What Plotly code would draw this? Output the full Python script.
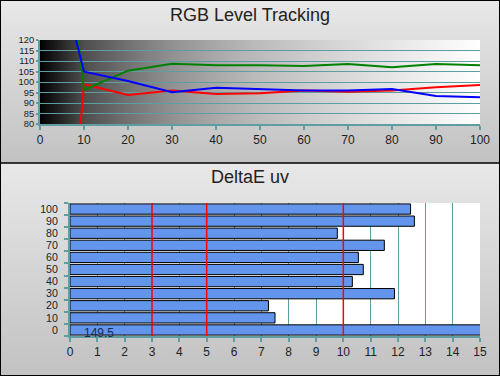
import plotly.graph_objects as go

# ---------------- data ----------------
levels = [0, 10, 20, 30, 40, 50, 60, 70, 80, 90, 100]
red_vals = [-140, 98.9, 93.8, 95.9, 94.3, 94.6, 95.9, 95.4, 95.9, 97.5, 98.6]
green_vals = [280, 96.2, 105.4, 108.7, 108.0, 108.0, 107.6, 108.6, 107.0, 108.6, 108.0]
blue_vals = [188, 104.9, 100.5, 95.1, 97.3, 96.7, 95.9, 95.9, 96.7, 93.3, 92.7]

deltae_levels = [0, 10, 20, 30, 40, 50, 60, 70, 80, 90, 100]
deltae_vals = [149.5, 7.5, 7.26, 11.87, 10.33, 10.73, 10.55, 11.5, 9.78, 12.6, 12.46]
thresholds = [3, 5, 10]

top_title = "RGB Level Tracking"
bottom_title = "DeltaE uv"

# ---------------- styling ----------------
W, H = 500, 376
FONT = "Liberation Sans, Arial, sans-serif"
TXT = "#222222"
TEAL = "#5f9ea0"
split = 1 - 163 / H

top_dom_x = [40 / W, 480 / W]
top_dom_y = [1 - 124 / H, 1 - 40 / H]
bot_dom_x = [70 / W, 480 / W]
bot_dom_y = [1 - 336 / H, 1 - 203 / H]

top_xr = [0, 100]
top_yr = [80, 120]
bot_xr = [0, 15]
bot_yr = [-5, 105]

gray_scale = [[0.0, "#000000"], [0.1, "#4e4e4e"], [0.2, "#727272"], [0.3, "#919191"],
              [0.4, "#a9a9a9"], [0.5, "#bcbcbc"], [0.6, "#cbcbcb"], [0.7, "#d9d9d9"],
              [0.8, "#e6e6e6"], [0.9, "#f2f2f2"], [1.0, "#ffffff"]]
panel_scale = [[0, "#c2c2c2"], [1, "#e8e8e8"]]

fig = go.Figure()


def rect(x0, x1, y0, y1):
    return [x0, x1, x1, x0, x0], [y0, y0, y1, y1, y0]


# panel backgrounds on a full-figure helper subplot (xy), drawn beneath everything
for y0, y1 in [(split, 1.0), (0.0, split)]:
    xs, ys = rect(0, 1, y0, y1)
    fig.add_trace(go.Scatter(
        x=xs, y=ys, mode="none", fill="toself",
        fillgradient=dict(type="vertical", colorscale=panel_scale, start=y0, stop=y1),
        hoverinfo="skip", showlegend=False, xaxis="x", yaxis="y"))

# top plot-area gradient (helper subplot so gridlines stay visible above it)
xs, ys = rect(top_dom_x[0], top_dom_x[1], top_dom_y[0], top_dom_y[1])
fig.add_trace(go.Scatter(
    x=xs, y=ys, mode="none", fill="toself",
    fillgradient=dict(type="horizontal", colorscale=gray_scale,
                      start=top_dom_x[0], stop=top_dom_x[1]),
    hoverinfo="skip", showlegend=False, xaxis="x", yaxis="y"))

# bottom plot-area white
xs, ys = rect(bot_dom_x[0], bot_dom_x[1], bot_dom_y[0], bot_dom_y[1])
fig.add_trace(go.Scatter(
    x=xs, y=ys, mode="none", fill="toself", fillcolor="#ffffff",
    hoverinfo="skip", showlegend=False, xaxis="x", yaxis="y"))

for vals, col in [(red_vals, "#ff0000"), (green_vals, "#008000"), (blue_vals, "#0000ff")]:
    fig.add_trace(go.Scatter(x=levels, y=vals, mode="lines", line=dict(color=col, width=2),
                             showlegend=False, xaxis="x2", yaxis="y2"))

fig.add_trace(go.Bar(
    x=deltae_vals, y=deltae_levels, orientation="h", width=8.5,
    marker=dict(color="#6495ed", line=dict(color="#000000", width=1)),
    showlegend=False, xaxis="x3", yaxis="y3"))

shapes = []
for t in thresholds:
    shapes.append(dict(type="line", xref="x3", yref="y3 domain", x0=t, x1=t, y0=0, y1=1,
                       line=dict(color="#ff0000", width=1.5), layer="above"))
shapes.append(dict(type="line", xref="paper", yref="paper", x0=0, x1=1, y0=split, y1=split,
                   line=dict(color="#000000", width=1.5), layer="above"))
shapes.append(dict(type="rect", xref="paper", yref="paper", x0=0, x1=1, y0=0, y1=1,
                   line=dict(color="#000000", width=2), layer="above"))

annotations = [
    dict(text=top_title, xref="paper", yref="paper", x=0.5, y=1 - 15 / H, xanchor="center",
         yanchor="middle", showarrow=False, font=dict(family=FONT, size=18, color=TXT)),
    dict(text=bottom_title, xref="paper", yref="paper", x=0.5, y=1 - 177 / H, xanchor="center",
         yanchor="middle", showarrow=False, font=dict(family=FONT, size=18, color=TXT)),
    dict(text=str(deltae_vals[0]), xref="x3", yref="y3", x=bot_xr[0], y=deltae_levels[0],
         xanchor="left", yanchor="middle", xshift=12, yshift=-3, showarrow=False,
         font=dict(family=FONT, size=12, color="#1a2a4c")),
]

axis_font = dict(family=FONT, size=12, color=TXT)

fig.update_layout(
    width=W, height=H, margin=dict(l=0, r=0, t=0, b=0, pad=0),
    paper_bgcolor="#d6d6d6", plot_bgcolor="rgba(0,0,0,0)",
    showlegend=False, font=dict(family=FONT, color=TXT),
    shapes=shapes, annotations=annotations,
    xaxis=dict(domain=[0, 1], range=[0, 1], visible=False, fixedrange=True),
    yaxis=dict(domain=[0, 1], range=[0, 1], visible=False, fixedrange=True),
    xaxis2=dict(domain=top_dom_x, range=top_xr, anchor="y2", tickvals=levels,
                showgrid=False, zeroline=False, showline=True, linecolor=TEAL, linewidth=2,
                ticks="outside", ticklen=4, tickwidth=2, tickcolor=TEAL,
                tickfont=axis_font, automargin=False),
    yaxis2=dict(domain=top_dom_y, range=top_yr, anchor="x2",
                tickvals=list(range(80, 121, 5)), showgrid=True, gridcolor=TEAL, gridwidth=1,
                zeroline=False, showline=True, linecolor=TEAL, linewidth=2,
                ticks="outside", ticklen=2, tickwidth=2, tickcolor=TEAL,
                tickfont=dict(family=FONT, size=9.4, color=TXT), automargin=False),
    xaxis3=dict(domain=bot_dom_x, range=bot_xr, anchor="y3", dtick=1, tick0=0,
                showgrid=True, gridcolor=TEAL, gridwidth=1, zeroline=False,
                showline=True, linecolor=TEAL, linewidth=2,
                ticks="outside", ticklen=4, tickwidth=2, tickcolor=TEAL,
                tickfont=axis_font, automargin=False),
    yaxis3=dict(domain=bot_dom_y, range=bot_yr, anchor="x3",
                tickvals=deltae_levels, showgrid=False, zeroline=False,
                showline=True, linecolor=TEAL, linewidth=2, ticks="", ticklen=0,
                ticklabelstandoff=8,
                minor=dict(tick0=-5, dtick=10, ticks="outside", ticklen=4, tickwidth=2,
                           tickcolor=TEAL, showgrid=False),
                tickfont=dict(family=FONT, size=10.6, color=TXT), automargin=False),
)

fig.write_html("out.html", config={"displayModeBar": False},
               post_script="document.body.style.margin='0';")
